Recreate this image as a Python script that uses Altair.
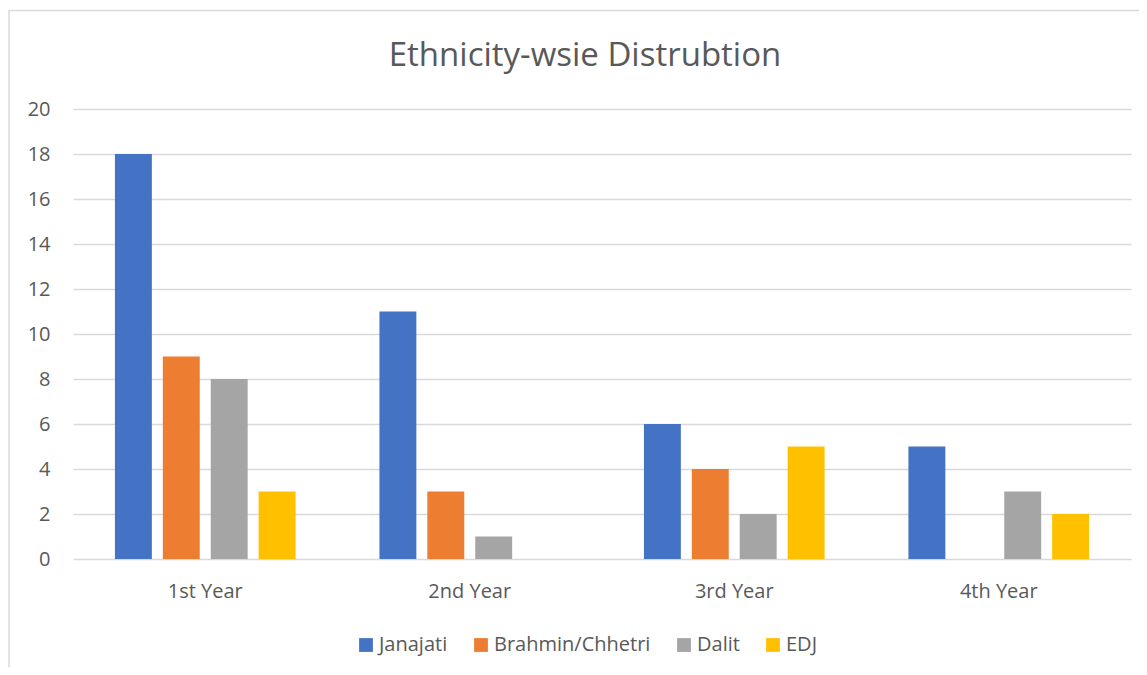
import altair as alt
import pandas as pd

years = ["1st Year", "2nd Year", "3rd Year", "4th Year"]
groups = ["Janajati", "Brahmin/Chhetri", "Dalit", "EDJ"]
janajati = [18, 11, 6, 5]
brahmin = [9, 3, 4, 0]
dalit = [8, 1, 2, 3]
edj = [3, 0, 5, 2]
colors = ["#4472C4", "#ED7D31", "#A5A5A5", "#FFC000"]
y_ticks = [0, 2, 4, 6, 8, 10, 12, 14, 16, 18, 20]
title_text = "Ethnicity-wsie Distrubtion"

rows = []
for g, vals in zip(groups, [janajati, brahmin, dalit, edj]):
    for yr, v in zip(years, vals):
        rows.append({"year": yr, "group": g, "value": v})
df = pd.DataFrame(rows)

W, H = 1058, 450
FONT = "Open Sans"
TXT = "#595959"
GRID = "#D9D9D9"

bars = alt.Chart(df).mark_bar().encode(
    x=alt.X("year:N", sort=years,
            scale=alt.Scale(paddingInner=0.317, paddingOuter=0.1585),
            axis=alt.Axis(title=None, labelAngle=0, labelPadding=22, ticks=False,
                          domain=False, grid=False, labelFontSize=20,
                          labelColor=TXT, labelFont=FONT)),
    xOffset=alt.XOffset("group:N", sort=groups,
                        scale=alt.Scale(paddingInner=0.229, paddingOuter=0)),
    y=alt.Y("value:Q", scale=alt.Scale(domain=[0, 20], nice=False),
            axis=alt.Axis(values=y_ticks, title=None, ticks=False, domain=False,
                          grid=True, gridColor=GRID, gridWidth=1.3,
                          labelPadding=23, labelFontSize=20, labelColor=TXT,
                          labelFont=FONT)),
    color=alt.Color("group:N", sort=groups,
                    scale=alt.Scale(domain=groups, range=colors),
                    legend=alt.Legend(orient="none", direction="horizontal",
                                      legendX=283, legendY=526, title=None,
                                      symbolType="square", symbolSize=190,
                                      symbolStrokeWidth=0, labelFontSize=20,
                                      labelFont=FONT, labelColor=TXT,
                                      labelOffset=3, columnPadding=23,
                                      padding=0)),
)

title = alt.Chart(pd.DataFrame({"t": [title_text]})).mark_text(
    font=FONT, fontSize=33, color=TXT, align="center", baseline="middle"
).encode(text="t:N", x=alt.value(512), y=alt.value(-53))

border = alt.Chart(pd.DataFrame({"a": [0]})).mark_rect(
    fill=None, stroke=GRID, strokeWidth=1.5
).encode(x=alt.value(-64), x2=alt.value(1300), y=alt.value(-98.5), y2=alt.value(900))

chart = alt.layer(border, bars, title).properties(
    width=W, height=H,
    autosize=alt.AutoSizeParams(type="none"),
    padding={"left": 65, "top": 101, "right": 8, "bottom": 108},
).configure_view(stroke=None)

chart.save("out.html", embed_options={"renderer": "svg", "actions": False})
